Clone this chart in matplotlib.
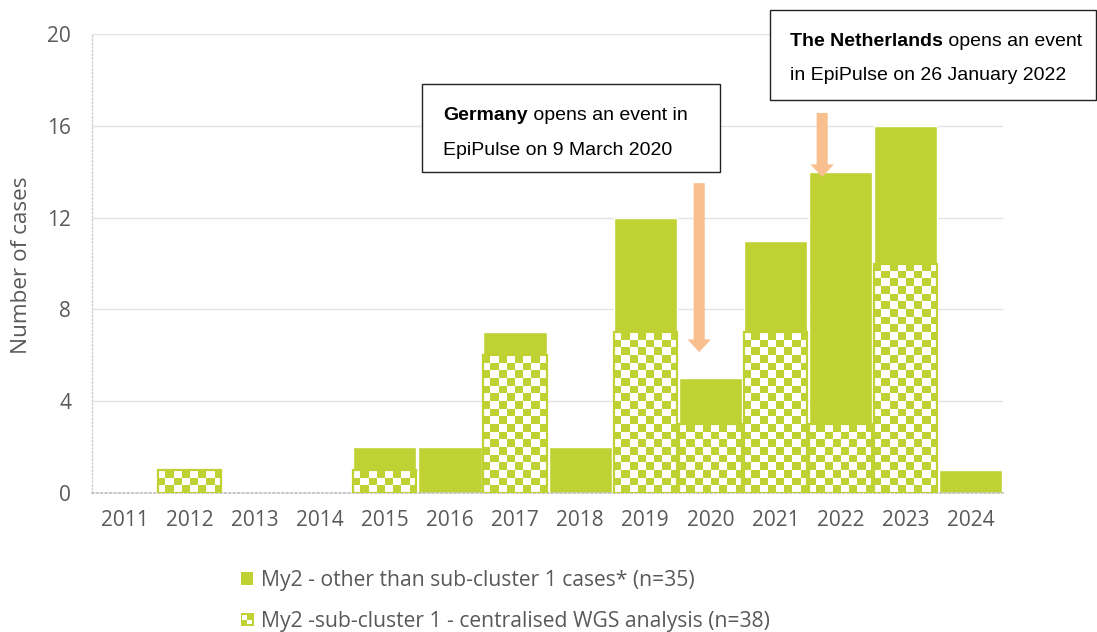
import numpy as np
import matplotlib.pyplot as plt
from matplotlib.colors import ListedColormap
from matplotlib.patches import Rectangle
from matplotlib.text import Annotation
from matplotlib.legend_handler import HandlerBase

# Cases per year
years = [2011, 2012, 2013, 2014, 2015, 2016, 2017, 2018, 2019, 2020, 2021, 2022, 2023, 2024]
sub_cluster = [0, 1, 0, 0, 1, 0, 6, 0, 7, 3, 7, 3, 10, 0]
other = [0, 0, 0, 0, 1, 2, 1, 2, 5, 2, 4, 11, 6, 1]

label_other = "My2 - other than sub-cluster 1 cases* (n=35)"
label_sub = "My2 -sub-cluster 1 - centralised WGS analysis (n=38)"

GREEN = "#C0D134"
ARROW = "#F9BF8F"
GREY = "#595959"
AXFONT = "Open Sans"
BOXFONT = "Liberation Sans"


class CheckerHandler(HandlerBase):
    """Small checker square for the legend."""
    def create_artists(self, legend, orig_handle, xdescent, ydescent,
                       width, height, fontsize, trans):
        s = height
        x0 = -xdescent + (width - s) / 2
        y0 = -ydescent
        arts = [Rectangle((x0, y0), s, s, facecolor=GREEN, edgecolor="none",
                          transform=trans)]
        c = s * 0.36
        for dx, dy in [(0.14, 0.5), (0.5, 0.14)]:
            arts.append(Rectangle((x0 + dx * s, y0 + dy * s), c, c,
                                  facecolor="white", edgecolor="none",
                                  transform=trans))
        return arts


fig = plt.figure(figsize=(10.97, 6.32), dpi=100)
ax = fig.add_axes([0.0839, 0.2199, 0.8305, 0.7263])
x = np.arange(len(years))
W = 0.97

# solid part stacked on top of the sub-cluster part
ax.bar(x, other, W, bottom=sub_cluster, color=GREEN, edgecolor="white",
       linewidth=1, zorder=2)

# checker part: texture clipped to each bar
tex = np.add.outer(np.arange(60), np.arange(112)) % 2
cmap = ListedColormap(["white", GREEN])
chk = ax.bar(x, sub_cluster, W, facecolor="none", edgecolor=GREEN,
             linewidth=1.6, zorder=4)
for patch, v in zip(chk.patches, sub_cluster):
    if v == 0:
        patch.set_visible(False)
        continue
    im = ax.imshow(tex, cmap=cmap, extent=(-0.5, 13.5, 0, 20), origin="lower",
                   aspect="auto", interpolation="nearest", zorder=3)
    im.set_clip_path(patch)

ax.set_xlim(-0.5, 13.5)
ax.set_ylim(0, 20)
ax.set_xticks(x)
ax.set_xticklabels(years)
ax.set_yticks([0, 4, 8, 12, 16, 20])
ax.grid(axis="y", color="#E3E3E3", linewidth=1, zorder=0)
ax.set_axisbelow(True)
for s in ["top", "right"]:
    ax.spines[s].set_visible(False)
ax.spines["left"].set(color="#D0D0D0", linestyle=":", linewidth=1)
ax.spines["bottom"].set(color="#BFBFBF", linestyle=":", linewidth=1.2)
ax.tick_params(length=0, labelsize=15, labelcolor=GREY)
ax.tick_params(axis="y", pad=15)
ax.tick_params(axis="x", pad=12)
for t in ax.get_xticklabels() + ax.get_yticklabels():
    t.set_fontfamily(AXFONT)

fig.text(22 / 1097, 1 - 265 / 632, "Number of cases", rotation=90,
         ha="center", va="center", fontsize=16.2, color=GREY, family=AXFONT)

# arrows marking the events
ax.arrow(8.83, 13.5, 0, 6.14 - 13.5, width=0.17, head_width=0.36,
         head_length=0.55, length_includes_head=True, color=ARROW, lw=0, zorder=5)
ax.arrow(10.72, 16.56, 0, 13.77 - 16.56, width=0.17, head_width=0.36,
         head_length=0.55, length_includes_head=True, color=ARROW, lw=0, zorder=5)


def event_box(x0, y0, w, h, tx, base1, base2, bold, rest1, line2):
    fig.patches.append(Rectangle((x0, y0), w, h, transform=fig.transFigure,
                                 facecolor="white", edgecolor="#222222",
                                 linewidth=1, zorder=6))
    b = fig.text(tx, base1, bold, fontsize=14, fontweight="bold",
                 family=BOXFONT, va="baseline", zorder=7)
    fig.add_artist(Annotation(rest1, xy=(1, 0), xycoords=b, fontsize=14,
                              family=BOXFONT, va="bottom", ha="left",
                              annotation_clip=False, zorder=7))
    fig.text(tx, base2, line2, fontsize=14, family=BOXFONT, va="baseline",
             zorder=7)


event_box(422 / 1097, 1 - 172 / 632, 298 / 1097, 88 / 632, 443 / 1097,
          1 - 120 / 632, 1 - 155 / 632, "Germany", " opens an event in",
          "EpiPulse on 9 March 2020")
event_box(770 / 1097, 1 - 100 / 632, 326 / 1097, 90 / 632, 790 / 1097,
          1 - 46 / 632, 1 - 80 / 632, "The Netherlands", " opens an event",
          "in EpiPulse on 26 January 2022")

h_other = Rectangle((0, 0), 1, 1, facecolor=GREEN, edgecolor="none")
h_sub = Rectangle((0, 0), 1, 1, facecolor=GREEN, edgecolor="none")
leg = fig.legend([h_other, h_sub], [label_other, label_sub],
                 handler_map={h_sub: CheckerHandler()},
                 loc="upper left", bbox_to_anchor=(241 / 1097, 1 - 570 / 632),
                 frameon=False, prop={"family": AXFONT, "size": 15.2},
                 labelcolor=GREY, handlelength=0.58, handleheight=0.58,
                 handletextpad=0.37, labelspacing=0.95, borderpad=0,
                 borderaxespad=0)

fig.savefig("out.png", dpi=100)
